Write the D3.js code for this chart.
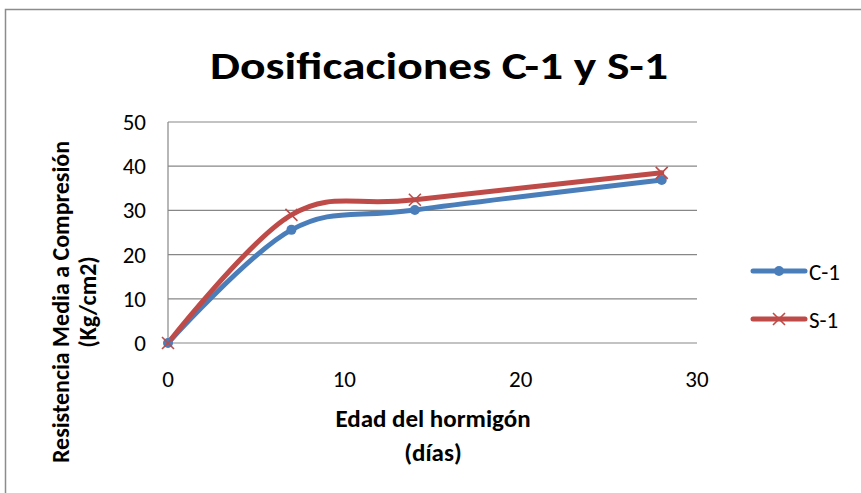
<!DOCTYPE html>
<html><head><meta charset="utf-8">
<script src="https://cdn.jsdelivr.net/npm/d3@7"></script>
<style>body{margin:0;background:#fff}svg{display:block}</style>
</head><body>
<svg id="c" width="861" height="493"></svg>
<script>
const days = [0, 7, 14, 28];
const seriesC1 = [0, 25.6, 30.1, 36.9];
const seriesS1 = [0, 29.0, 32.4, 38.5];
const seriesNames = ["C-1", "S-1"];
const yTicks = [0, 10, 20, 30, 40, 50];
const xTicks = [0, 10, 20, 30];
const titleText = "Dosificaciones C-1 y S-1";
const xTitle = ["Edad del hormigón", "(días)"];
const yTitle = ["Resistencia Media a Compresión", "(Kg/cm2)"];

const svg = d3.select("#c");
const font = "Carlito, Calibri, Lato, 'Open Sans', sans-serif";
svg.append("rect").attr("x", 5.5).attr("y", 9.5).attr("width", 900).attr("height", 600)
  .attr("fill", "#fff").attr("stroke", "#8c8c8c").attr("stroke-width", 1.5);

const x = d3.scaleLinear().domain([0, 30]).range([168, 697]);
const y = d3.scaleLinear().domain([0, 50]).range([343, 122]);

// gridlines
svg.append("g").selectAll("line").data(yTicks).join("line")
  .attr("x1", x(0)).attr("x2", x(30)).attr("y1", d => y(d)).attr("y2", d => y(d))
  .attr("stroke", "#878787").attr("stroke-width", 1.2);
svg.append("line").attr("x1", x(0)).attr("x2", x(0)).attr("y1", y(50)).attr("y2", y(0))
  .attr("stroke", "#878787").attr("stroke-width", 1.2);

// y tick labels
svg.append("g").selectAll("text").data(yTicks).join("text")
  .attr("x", 146).attr("y", d => y(d) + 8).attr("text-anchor", "end")
  .attr("font-family", font).attr("font-size", 23).attr("fill", "#000").text(d => d);
// x tick labels
svg.append("g").selectAll("text").data(xTicks).join("text")
  .attr("x", d => x(d)).attr("y", 387).attr("text-anchor", "middle")
  .attr("font-family", font).attr("font-size", 23).attr("fill", "#000").text(d => d);

// title
svg.append("text").attr("x", 439).attr("y", 79).attr("text-anchor", "middle")
  .attr("font-family", font).attr("font-weight", "bold").attr("font-size", 38)
  .attr("textLength", 458).attr("lengthAdjust", "spacingAndGlyphs").text(titleText);

// axis titles
svg.append("g").selectAll("text").data(xTitle).join("text")
  .attr("x", 433).attr("y", (d, i) => 427 + i * 34).attr("text-anchor", "middle")
  .attr("font-family", font).attr("font-weight", "bold").attr("font-size", 25).text(d => d);
svg.append("g").selectAll("text").data(yTitle).join("text")
  .attr("transform", (d, i) => `translate(${69 + i * 27},302) rotate(-90)`)
  .attr("text-anchor", "middle")
  .attr("font-family", font).attr("font-weight", "bold").attr("font-size", 24).text(d => d);

const colors = ["#4a7ebb", "#be4b48"];
const data = [seriesC1, seriesS1];
const line = d3.line().x((d, i) => x(days[i])).y(d => y(d)).curve(d3.curveCatmullRom.alpha(0));

data.forEach((s, k) => {
  svg.append("path").attr("d", line(s)).attr("fill", "none")
    .attr("stroke", colors[k]).attr("stroke-width", 5).attr("stroke-linecap", "round").attr("stroke-linejoin", "round");
});
// markers
svg.append("g").selectAll("circle").data(seriesC1).join("circle")
  .attr("cx", (d, i) => x(days[i])).attr("cy", d => y(d)).attr("r", 5).attr("fill", colors[0]);
function cross(g, cx, cy) {
  g.append("path").attr("d", `M${cx-6},${cy-6}L${cx+6},${cy+6}M${cx-6},${cy+6}L${cx+6},${cy-6}`)
    .attr("stroke", colors[1]).attr("stroke-width", 1.6).attr("fill", "none");
}
const mk = svg.append("g");
seriesS1.forEach((d, i) => cross(mk, x(days[i]), y(d)));

// legend
const lg = svg.append("g");
seriesNames.forEach((n, k) => {
  const ly = 271 + k * 48;
  lg.append("line").attr("x1", 753).attr("x2", 805).attr("y1", ly).attr("y2", ly)
    .attr("stroke", colors[k]).attr("stroke-width", 5).attr("stroke-linecap", "round");
  if (k === 0) lg.append("circle").attr("cx", 779).attr("cy", ly).attr("r", 5).attr("fill", colors[0]);
  else cross(lg, 779, ly);
  lg.append("text").attr("x", 809).attr("y", ly + 9).attr("font-family", font).attr("font-size", 23).text(n);
});
</script>
</body></html>
